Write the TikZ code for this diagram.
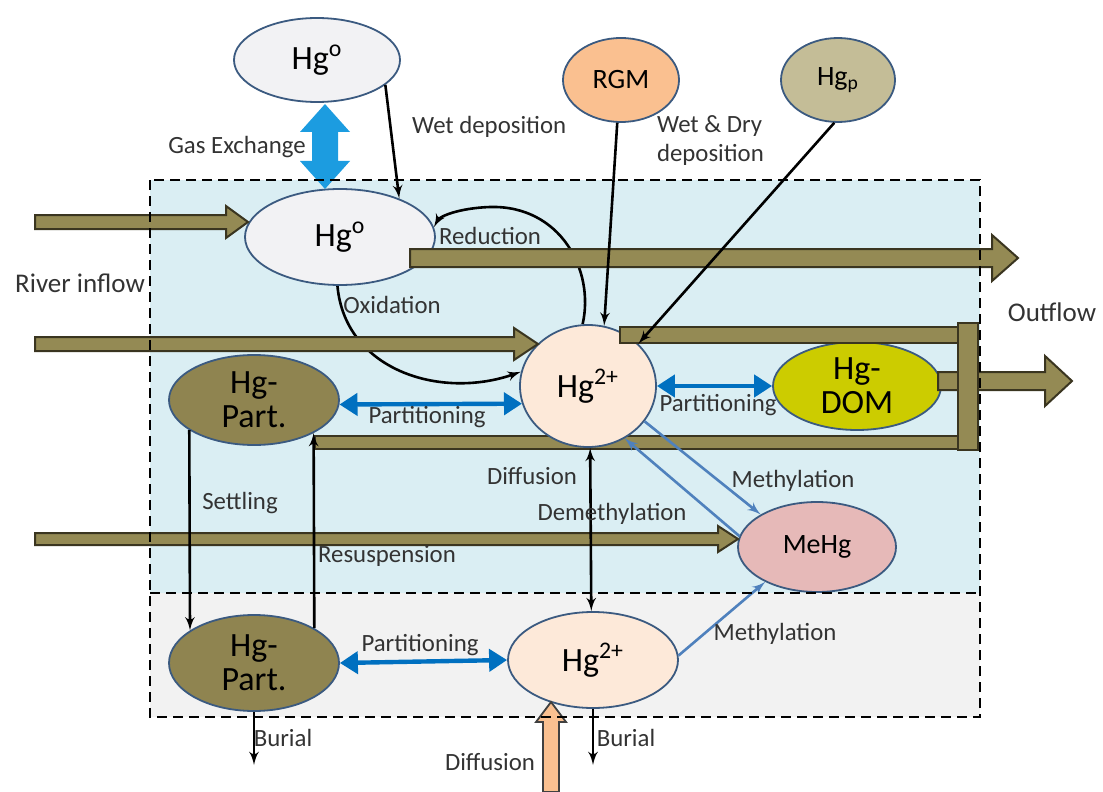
\documentclass[tikz,border=0pt]{standalone}
\usepackage{fontspec}
\setmainfont{Carlito}
\usetikzlibrary{shapes, arrows, arrows.meta, positioning, calc, backgrounds}

\definecolor{waterblue}{HTML}{DAEEF3}
\definecolor{sedgray}{HTML}{F2F2F2}
\definecolor{rimblue}{HTML}{3B5A80}
\definecolor{olivebrown}{HTML}{948A54}
\definecolor{olivedark}{HTML}{3A3520}
\definecolor{partolive}{HTML}{8F8450}
\definecolor{domyellow}{HTML}{CCCC00}
\definecolor{rgmpeach}{HTML}{FAC090}
\definecolor{hgptan}{HTML}{C4BD97}
\definecolor{ionpeach}{HTML}{FDE9D9}
\definecolor{mehgpink}{HTML}{E6B9B8}
\definecolor{partblue}{HTML}{0070C0}
\definecolor{gasblue}{HTML}{1C9CE0}
\definecolor{methblue}{HTML}{4F81BD}
\definecolor{hgzero}{HTML}{F2F2F4}

% fat horizontal arrow: start, tip, half shaft, half head, head length
\newcommand{\flowarrow}[5]{%
  \filldraw[flow] ($(#1)+(0,-#3)$) -- ($(#2)+(-#5,-#3)$) -- ($(#2)+(-#5,-#4)$) -- (#2)
    -- ($(#2)+(-#5,#4)$) -- ($(#2)+(-#5,#3)$) -- ($(#1)+(0,#3)$) -- cycle;}

\begin{document}
\begin{tikzpicture}[x=0.5pt, y=-0.5pt, >=latex', thick]
        % Styles
        \tikzstyle{species} = [ellipse, draw=rimblue, line width=0.9pt, inner sep=0pt, align=center]
        \tikzstyle{bigtext} = [font=\fontsize{17}{17}\selectfont]
        \tikzstyle{smalltext} = [font=\fontsize{14}{14}\selectfont]
        \tikzstyle{lbl} = [font=\fontsize{12.4}{14.5}\selectfont, text=black!80]
        \tikzstyle{flux} = [->, line width=1.3pt]
        \tikzstyle{partition} = [{Triangle[length=9pt,width=11pt]}-{Triangle[length=9pt,width=11pt]}, line width=2.2pt, partblue]
        \tikzstyle{meth} = [->, line width=1.3pt, methblue]
        \tikzstyle{flow} = [fill=olivebrown, draw=olivedark, line width=1pt]
        \tikzstyle{zone} = [draw, dash pattern=on 5pt off 3pt, line width=1.1pt]

        \useasboundingbox (0,0) rectangle (1103,792);

        % --- Compartments ---
        \begin{pgfonlayer}{background}
            \fill[waterblue] (150,180) rectangle (980,593);
            \fill[sedgray] (150,593) rectangle (980,717);
        \end{pgfonlayer}

        % --- Atmosphere ---
        \node [species, bigtext, fill=hgzero, minimum width=83pt, minimum height=42pt] (hga) at (317,60) {Hg\textsuperscript{o}};
        \node [species, smalltext, fill=rgmpeach, minimum width=58pt, minimum height=42pt] (rgm) at (621,80) {RGM};
        \node [species, smalltext, fill=hgptan, minimum width=57pt, minimum height=42pt] (hgp) at (838,80) {Hg\textsubscript{p}};

        % --- Water column ---
        \node [species, bigtext, fill=hgzero, minimum width=95pt, minimum height=48pt] (hgw) at (340,237) {Hg\textsuperscript{o}};
        \node [species, bigtext, fill=ionpeach, minimum width=68pt, minimum height=61pt] (hg2w) at (588,386) {Hg\textsuperscript{2+}};
        \node [species, bigtext, fill=domyellow, minimum width=84pt, minimum height=44pt] (dom) at (857,386) {Hg-\\DOM};
        \node [species, bigtext, fill=partolive, minimum width=85pt, minimum height=45pt] (partw) at (254,400) {Hg-\\Part.};
        \node [species, smalltext, fill=mehgpink, minimum width=79pt, minimum height=45pt] (mehg) at (817,547) {MeHg};

        % --- Sediment ---
        \node [species, bigtext, fill=partolive, minimum width=85pt, minimum height=48pt] (parts) at (254,663) {Hg-\\Part.};
        \node [species, bigtext, fill=ionpeach, minimum width=85pt, minimum height=48pt] (hg2s) at (593,660) {Hg\textsuperscript{2+}};

        % --- Redox curves and lower bar (behind) ---
        \begin{pgfonlayer}{background}
            \draw [flux] (hg2w.95) .. controls (595,270) and (560,205) .. (490,207)
                .. controls (460,208) and (440,216) .. (hgw.6);
            \draw [flux] (hgw.-93) .. controls (345,370) and (440,400) .. (hg2w.168);
            \filldraw [flow] (315,436) rectangle (975,449);
        \end{pgfonlayer}

        % --- River inflow and outflow ---
        \coordinate (in1s) at (35,222);  \coordinate (in1e) at (248,222);
        \coordinate (in2s) at (35,344);  \coordinate (in2e) at (538,344);
        \coordinate (in3s) at (35,539);  \coordinate (in3e) at (738,539);
        \coordinate (out1s) at (410,258); \coordinate (out1e) at (1018,258);
        \coordinate (out2s) at (938,381); \coordinate (out2e) at (1072,381);
        \flowarrow{in1s}{in1e}{7}{16}{22}
        \flowarrow{in2s}{in2e}{7}{16}{24}
        \flowarrow{in3s}{in3e}{6}{13}{20}
        \flowarrow{out1s}{out1e}{9}{23}{26}
        \filldraw [flow] (620,327) rectangle (975,343);
        \flowarrow{out2s}{out2e}{9}{25}{27}
        \filldraw [flow] (958,323) rectangle (978,450);

        % --- Gas exchange ---
        \coordinate (gt) at (325,104);
        \coordinate (gb) at (325,189);
        \fill [gasblue] (gt) -- ($(gt)+(25,28)$) -- ($(gt)+(13,28)$) -- ($(gb)+(13,-28)$) -- ($(gb)+(25,-28)$)
            -- (gb) -- ($(gb)+(-25,-28)$) -- ($(gb)+(-13,-28)$) -- ($(gt)+(-13,28)$) -- ($(gt)+(-25,28)$) -- cycle;

        % --- Diffusion from below ---
        \coordinate (dfs) at (551,792);
        \coordinate (dft) at (551,702);
        \filldraw [fill=rgmpeach, draw=black!75, line width=0.9pt] (dft) -- ($(dft)+(15,20)$) -- ($(dft)+(8,20)$) -- ($(dfs)+(8,0)$)
            -- ($(dfs)+(-8,0)$) -- ($(dft)+(-8,20)$) -- ($(dft)+(-15,20)$) -- cycle;

        % --- Deposition ---
        \draw [flux] (hga.-20) -- (hgw.33);
        \draw [flux] (rgm.-95) -- (hg2w.75);
        \draw [flux] (hgp.-95) -- (hg2w.40);

        % --- Particles ---
        \draw [flux] (partw.205) -- (parts.153);
        \draw [flux] (parts.30) -- (partw.-29);
        \draw [partition] (partw.-3) -- (hg2w.195);
        \draw [partition] (hg2w.east) -- (dom.west);
        \draw [partition] (parts.east) -- (hg2s.west);

        % --- Methylation ---
        \draw [<->, line width=1.3pt] (hg2w.-88) -- (hg2s.92);
        \draw [meth] (hg2w.-32) -- (mehg.150);
        \draw [meth] (mehg.172) -- (hg2w.-55);
        \draw [meth] (hg2s.3) -- (mehg.214);

        % --- Burial ---
        \coordinate (bur1) at (254,765);
        \coordinate (bur2) at (593,765);
        \draw [flux] (parts.south) -- (bur1);
        \draw [flux] (hg2s.south) -- (bur2);

        % --- Labels ---
        \node [lbl] (lgas) at (237,147) {Gas Exchange};
        \node [lbl, anchor=west] (lwet) at (405,127) {Wet deposition};
        \node [lbl, anchor=west, align=left] (lwetdry) at (650,141) {Wet \& Dry\\deposition};
        \node [lbl] (lred) at (490,236) {Reduction};
        \node [lbl] (lox) at (392,305) {Oxidation};
        \node [lbl] (lpart1) at (427,417) {Partitioning};
        \node [lbl] (lpart2) at (718,405) {Partitioning};
        \node [lbl] (lsettle) at (240,503) {Settling};
        \node [lbl] (lresusp) at (387,556) {Resuspension};
        \node [lbl] (ldiff1) at (532,476) {Diffusion};
        \node [lbl] (ldemeth) at (612,514) {Demethylation};
        \node [lbl] (lmeth1) at (793,481) {Methylation};
        \node [lbl] (lpart3) at (420,645) {Partitioning};
        \node [lbl] (lmeth2) at (775,634) {Methylation};
        \node [lbl] (lbur1) at (283,738) {Burial};
        \node [lbl] (lbur2) at (626,738) {Burial};
        \node [lbl] (ldiff2) at (490,762) {Diffusion};
        \node [lbl, font=\fontsize{13.5}{15}\selectfont] (lriver) at (80,283) {River inflow};
        \node [lbl, font=\fontsize{13.5}{15}\selectfont] (lout) at (1052,312) {Outflow};

        % --- Compartment borders ---
        \draw [zone] (150,180) rectangle (980,717);
        \draw [zone] (150,593) -- (980,593);

\end{tikzpicture}
\end{document}
